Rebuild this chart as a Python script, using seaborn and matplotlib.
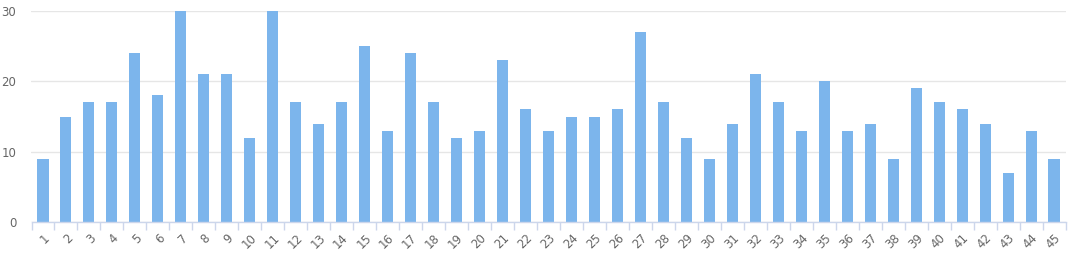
import matplotlib
matplotlib.use("Agg")
import matplotlib.pyplot as plt
import seaborn as sns
import pandas as pd
import numpy as np

categories = [str(i) for i in range(1, 46)]
values = [9, 15, 17, 17, 24, 18, 30, 21, 21, 12, 30, 17, 14, 17, 25, 13, 24, 17, 12, 13,
          23, 16, 13, 15, 15, 16, 27, 17, 12, 9, 14, 21, 17, 13, 20, 13, 14, 9, 19, 17,
          16, 14, 7, 13, 9]
y_ticks = [0, 10, 20, 30]

sns.set_theme(style="white")
plt.rcParams['font.family'] = ['DejaVu Sans']

df = pd.DataFrame({"cat": categories, "val": values})

fig = plt.figure(figsize=(10.73, 2.56), dpi=100)
ax = fig.add_axes([31.5 / 1073, 1 - 222 / 256, 1034 / 1073, 211 / 256])

sns.barplot(data=df, x="cat", y="val", color="#7cb5ec", saturation=1, width=0.48,
            linewidth=0, ax=ax)

ax.set_ylim(0, 30)
ax.set_xlim(-0.5, len(categories) - 0.5)
ax.set_yticks(y_ticks)
ax.set_yticklabels([str(t) for t in y_ticks], fontsize=8.5, color="#666666")
ax.yaxis.grid(True, color="#e6e6e6", linewidth=1)
ax.set_axisbelow(True)
for s in ["top", "right", "left"]:
    ax.spines[s].set_visible(False)
ax.spines["bottom"].set_color("#ccd6eb")
ax.spines["bottom"].set_linewidth(1)
ax.tick_params(axis="y", length=0, pad=11)

ax.set_xticks(range(len(categories)))
ax.set_xticklabels(categories, rotation=45, ha="right", rotation_mode="anchor",
                   fontsize=8.5, color="#666666")
ax.tick_params(axis="x", which="major", length=0, pad=7)
ax.set_xticks(np.arange(-0.5, len(categories), 1.0), minor=True)
ax.tick_params(axis="x", which="minor", length=6, color="#ccd6eb", width=1, bottom=True)
ax.set_xlabel("")
ax.set_ylabel("")

fig.savefig("out.png", dpi=100)
